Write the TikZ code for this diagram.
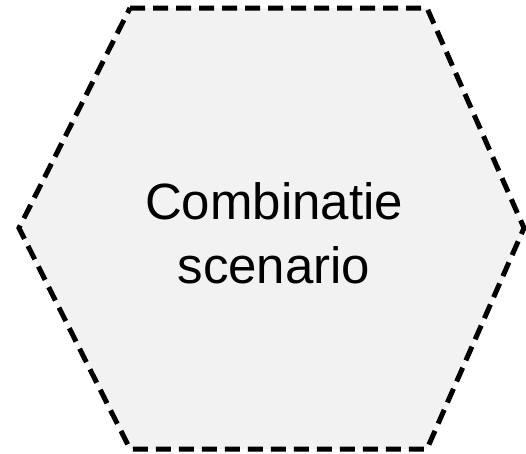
\documentclass[tikz,border=0pt]{standalone}
\usepackage{fontspec}
\setmainfont{Liberation Sans}
\definecolor{hexgray}{HTML}{F2F2F2}

\tikzset{
    hexzone/.style={fill=hexgray, draw=black, line width=5pt, dash pattern=on 15pt off 8pt, line join=miter},
    hexlabel/.style={align=center, font=\fontsize{51}{64}\selectfont, inner sep=0pt}
}

\begin{document}
\begin{tikzpicture}[x=1pt, y=-1pt]
    \useasboundingbox (0,0) rectangle (526,453);

    % hexagon corners
    \coordinate (tl) at (130,8);
    \coordinate (tr) at (427,8);
    \coordinate (rt) at (524,228);
    \coordinate (br) at (427,449);
    \coordinate (bl) at (130,449);
    \coordinate (lt) at (19,228);

    \draw[hexzone] (tl) -- (tr) -- (rt) -- (br) -- (bl) -- (lt) -- cycle;

    \node[hexlabel] (combi) at (274,233) {Combinatie\\scenario};
\end{tikzpicture}
\end{document}
